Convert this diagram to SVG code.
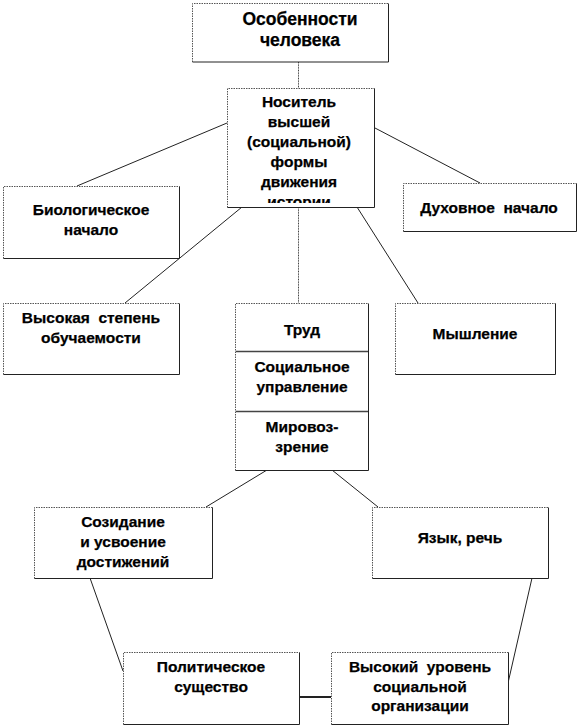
<svg xmlns="http://www.w3.org/2000/svg" width="582" height="727" viewBox="0 0 582 727">
<style>
.bg{fill:#fff;stroke:none}
.dot{fill:none;stroke:#555;stroke-width:1;stroke-dasharray:1.5 1}
.sol{fill:none;stroke:#222;stroke-width:1}
.div{stroke:#444;stroke-width:1.5}
.t{font-family:"Liberation Sans",Arial,sans-serif;font-weight:bold;font-size:15.5px;fill:#000;stroke:#000;stroke-width:0.25;text-anchor:middle;white-space:pre}
.tt{font-size:17.5px}
.c line{stroke:#222;stroke-width:1}
.v{stroke:#444 !important;stroke-dasharray:1 0.6}
</style>
<defs>
<clipPath id="clip2"><rect x="228" y="89" width="146" height="114"/></clipPath>
</defs>
<rect width="582" height="727" fill="#fff"/>
<g id="connectors" class="c">
<line class="v" x1="298.5" y1="62" x2="298.5" y2="88"/>
<line x1="227" y1="123" x2="77" y2="186"/>
<line x1="375" y1="128" x2="480" y2="183"/>
<line x1="242" y1="207" x2="125" y2="303"/>
<line class="v" x1="298.5" y1="207" x2="298.5" y2="303"/>
<line x1="357" y1="207" x2="418" y2="303"/>
<line x1="267" y1="470" x2="206" y2="507"/>
<line x1="332" y1="470" x2="378" y2="507"/>
<line x1="90" y1="578" x2="123" y2="671"/>
<line x1="532" y1="578" x2="508" y2="683"/>
<line x1="299" y1="697" x2="331" y2="697" style="stroke-width:2"/>
</g>
<g id="n1">
<rect class="bg" x="192.5" y="3.5" width="196" height="58.5"/>
<path class="dot" d="M192.5 62V3.5H388.5"/><path class="sol" d="M388.5 3.5V62H192.5"/>
<text class="t tt" x="300" y="25">Особенности</text>
<text class="t tt" x="300" y="46">человека</text>
</g>
<g id="n2">
<rect class="bg" x="227.5" y="88.5" width="147" height="119"/>
<path class="dot" d="M227.5 207.5V88.5H374.5"/><path class="sol" d="M374.5 88.5V207.5H227.5"/>
<g clip-path="url(#clip2)">
<text class="t" x="299" y="107">Носитель</text>
<text class="t" x="299" y="127">высшей</text>
<text class="t" x="299" y="147">(социальной)</text>
<text class="t" x="299" y="167">формы</text>
<text class="t" x="299" y="187">движения</text>
<text class="t" x="299" y="207">истории</text>
</g>
</g>
<g id="n3">
<rect class="bg" x="3.5" y="186.5" width="176" height="72"/>
<path class="dot" d="M3.5 258.5V186.5H179.5"/><path class="sol" d="M179.5 186.5V258.5H3.5"/>
<text class="t" x="91" y="215">Биологическое</text>
<text class="t" x="91" y="235">начало</text>
</g>
<g id="n4">
<rect class="bg" x="403.5" y="183.5" width="173" height="48"/>
<path class="dot" d="M403.5 231.5V183.5H576.5"/><path class="sol" d="M576.5 183.5V231.5H403.5"/>
<text class="t" x="489" y="213" xml:space="preserve">Духовное  начало</text>
</g>
<g id="n5">
<rect class="bg" x="3.5" y="303.5" width="176" height="71"/>
<path class="dot" d="M3.5 374.5V303.5H179.5"/><path class="sol" d="M179.5 303.5V374.5H3.5"/>
<text class="t" x="91" y="323" xml:space="preserve">Высокая  степень</text>
<text class="t" x="91" y="343">обучаемости</text>
</g>
<g id="n6">
<rect class="bg" x="235.5" y="303.5" width="133" height="167"/>
<path class="dot" d="M235.5 470.5V303.5H368.5"/><path class="sol" d="M368.5 303.5V470.5H235.5"/>
<line class="div" x1="236" y1="351.5" x2="368" y2="351.5"/>
<line class="div" x1="236" y1="411.5" x2="368" y2="411.5"/>
<text class="t" x="302" y="335">Труд</text>
<text class="t" x="302" y="372">Социальное</text>
<text class="t" x="302" y="392">управление</text>
<text class="t" x="302" y="432">Мировоз-</text>
<text class="t" x="302" y="452">зрение</text>
</g>
<g id="n7">
<rect class="bg" x="395.5" y="303.5" width="160" height="71"/>
<path class="dot" d="M395.5 374.5V303.5H555.5"/><path class="sol" d="M555.5 303.5V374.5H395.5"/>
<text class="t" x="475" y="339">Мышление</text>
</g>
<g id="n8">
<rect class="bg" x="34.5" y="507.5" width="178" height="71"/>
<path class="dot" d="M34.5 578.5V507.5H212.5"/><path class="sol" d="M212.5 507.5V578.5H34.5"/>
<text class="t" x="123" y="527">Созидание</text>
<text class="t" x="123" y="547">и усвоение</text>
<text class="t" x="123" y="567">достижений</text>
</g>
<g id="n9">
<rect class="bg" x="372.5" y="507.5" width="176" height="71"/>
<path class="dot" d="M372.5 578.5V507.5H548.5"/><path class="sol" d="M548.5 507.5V578.5H372.5"/>
<text class="t" x="460" y="543">Язык, речь</text>
</g>
<g id="n10">
<rect class="bg" x="123.5" y="652.5" width="176" height="72"/>
<path class="dot" d="M123.5 724.5V652.5H299.5"/><path class="sol" d="M299.5 652.5V724.5H123.5"/>
<text class="t" x="211" y="672">Политическое</text>
<text class="t" x="211" y="692">существо</text>
</g>
<g id="n11">
<rect class="bg" x="331.5" y="652.5" width="177" height="72"/>
<path class="dot" d="M331.5 724.5V652.5H508.5"/><path class="sol" d="M508.5 652.5V724.5H331.5"/>
<text class="t" x="420" y="672" xml:space="preserve">Высокий  уровень</text>
<text class="t" x="420" y="692">социальной</text>
<text class="t" x="420" y="711">организации</text>
</g>
</svg>
